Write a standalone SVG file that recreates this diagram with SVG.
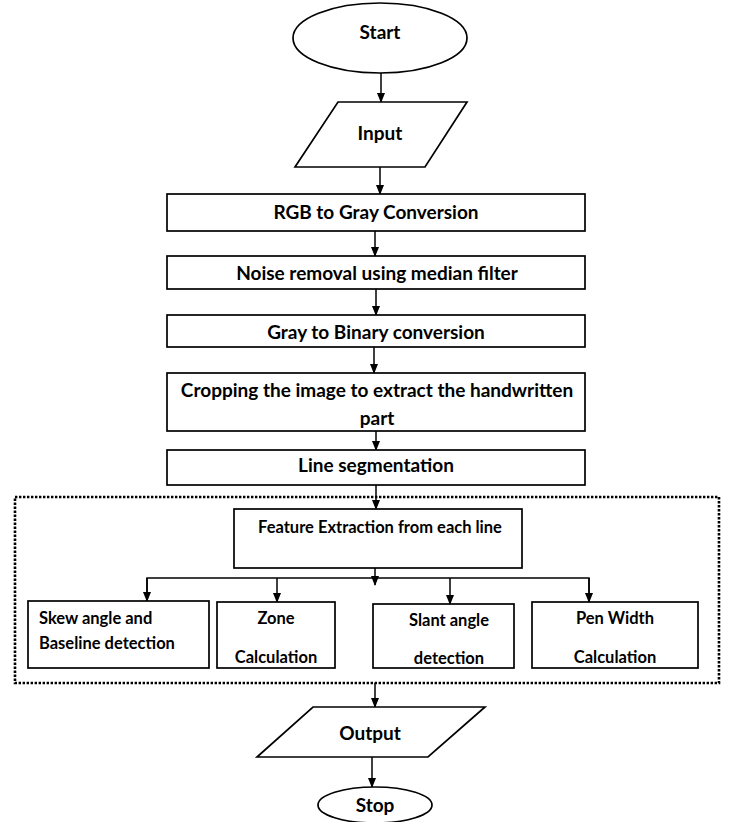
<svg xmlns="http://www.w3.org/2000/svg" width="729" height="822" viewBox="0 0 729 822">
<defs>
<marker id="ah" markerWidth="10" markerHeight="10" refX="9" refY="5" orient="auto" markerUnits="userSpaceOnUse">
<path d="M0,1 L10,5 L0,9 Z" fill="#000"/>
</marker>
<style>
.s{fill:#fff;stroke:#000;stroke-width:1.7}
.t{font-family:Lato,"Open Sans","Liberation Sans",sans-serif;font-weight:bold;font-size:19px;fill:#000;text-anchor:middle}
.l{text-anchor:start}
.sm{font-size:16.5px}
.c{fill:none;stroke:#000;stroke-width:1.5}
.dot{fill:none;stroke:#000;stroke-width:2.6;stroke-dasharray:2.4 1.6}
</style>
</defs>
<rect width="729" height="822" fill="#fff"/>
<g id="group-features">
<rect class="dot" x="15" y="497" width="704" height="186"/>
</g>
<g id="connectors">
<line class="c" x1="381" y1="73" x2="381" y2="102" marker-end="url(#ah)"/>
<line class="c" x1="380" y1="167" x2="380" y2="194" marker-end="url(#ah)"/>
<line class="c" x1="375" y1="231" x2="375" y2="256" marker-end="url(#ah)"/>
<line class="c" x1="376" y1="289" x2="376" y2="315" marker-end="url(#ah)"/>
<line class="c" x1="374" y1="347" x2="374" y2="373" marker-end="url(#ah)"/>
<line class="c" x1="376" y1="431" x2="376" y2="450" marker-end="url(#ah)"/>
<line class="c" x1="376" y1="485" x2="376" y2="509" marker-end="url(#ah)"/>
<line class="c" x1="375" y1="568" x2="375" y2="585" marker-end="url(#ah)"/>
<polyline class="c" points="147,601 147,578 589,578 589,602"/>
<line class="c" x1="147" y1="578" x2="147" y2="601" marker-end="url(#ah)"/>
<line class="c" x1="277" y1="578" x2="277" y2="602" marker-end="url(#ah)"/>
<line class="c" x1="450" y1="578" x2="450" y2="604" marker-end="url(#ah)"/>
<line class="c" x1="589" y1="578" x2="589" y2="602" marker-end="url(#ah)"/>
<line class="c" x1="375" y1="683" x2="375" y2="707" marker-end="url(#ah)"/>
<line class="c" x1="372" y1="757" x2="372" y2="787" marker-end="url(#ah)"/>
</g>
<g id="start">
<ellipse class="s" cx="380" cy="38" rx="87" ry="35"/>
<text class="t" x="380" y="39">Start</text>
</g>
<g id="input">
<polygon class="s" points="338,102 467,102 425,167 295,167"/>
<text class="t" x="380" y="140">Input</text>
</g>
<g id="rgb2gray">
<rect class="s" x="167" y="194" width="418" height="37"/>
<text class="t" x="376" y="219">RGB to Gray Conversion</text>
</g>
<g id="noise">
<rect class="s" x="167" y="256" width="418" height="33"/>
<text class="t" x="377" y="280">Noise removal using median filter</text>
</g>
<g id="gray2bin">
<rect class="s" x="167" y="315" width="418" height="32"/>
<text class="t" x="376" y="339">Gray to Binary conversion</text>
</g>
<g id="crop">
<rect class="s" x="167" y="373" width="418" height="58"/>
<text class="t" x="377" y="397">Cropping the image to extract the handwritten</text>
<text class="t" x="377" y="425">part</text>
</g>
<g id="lineseg">
<rect class="s" x="167" y="450" width="418" height="35"/>
<text class="t" x="376" y="472">Line segmentation</text>
</g>
<g id="feature">
<rect class="s" x="234" y="509" width="288" height="59"/>
<text class="t sm" x="380" y="533">Feature Extraction from each line</text>
</g>
<g id="skew">
<rect class="s" x="28" y="601" width="181" height="67"/>
<text class="t sm l" x="39" y="624">Skew angle and</text>
<text class="t sm l" x="39" y="649">Baseline detection</text>
</g>
<g id="zone">
<rect class="s" x="217" y="602" width="118" height="66"/>
<text class="t sm" x="276" y="624">Zone</text>
<text class="t sm" x="276" y="663">Calculation</text>
</g>
<g id="slant">
<rect class="s" x="373" y="604" width="141" height="64"/>
<text class="t sm" x="449" y="626">Slant angle</text>
<text class="t sm" x="449" y="664">detection</text>
</g>
<g id="penwidth">
<rect class="s" x="532" y="602" width="166" height="66"/>
<text class="t sm" x="615" y="624">Pen Width</text>
<text class="t sm" x="615" y="663">Calculation</text>
</g>
<g id="output">
<polygon class="s" points="313,707 485,707 428,757 257,757"/>
<text class="t" x="370" y="740">Output</text>
</g>
<g id="stop">
<ellipse class="s" cx="375" cy="805" rx="57" ry="18"/>
<text class="t" x="375" y="812">Stop</text>
</g>
</svg>
